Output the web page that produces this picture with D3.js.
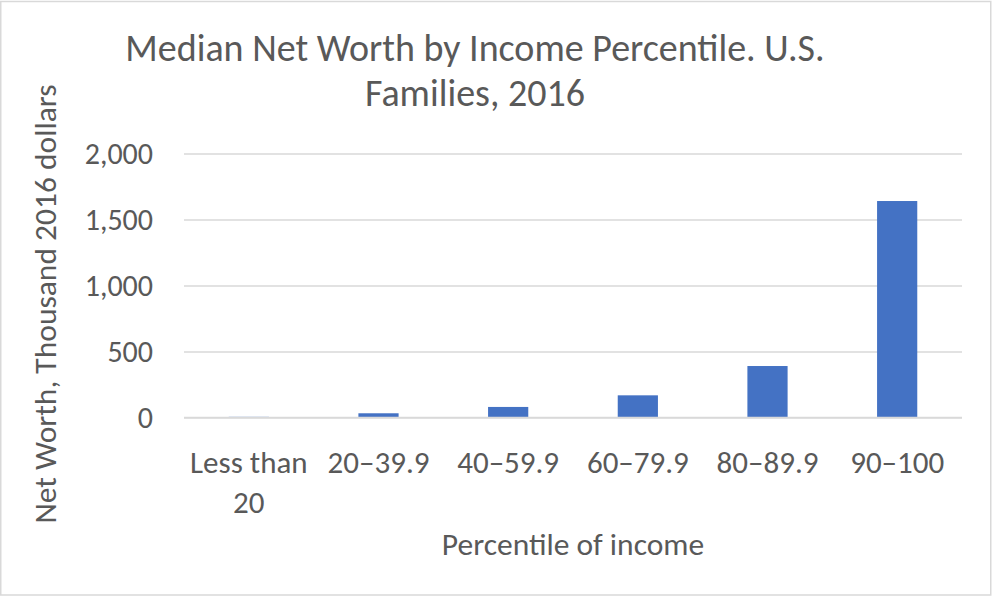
<!DOCTYPE html>
<html>
<head>
<meta charset="utf-8">
<script src="https://cdn.jsdelivr.net/npm/d3@7"></script>
<style>
  html, body { margin: 0; padding: 0; background: #fff; }
  svg { display: block; }
  text { font-family: Carlito, Calibri, Lato, "Open Sans", sans-serif; fill: #595959; }
</style>
</head>
<body>
<svg id="chart" width="994" height="597"></svg>
<script>
// ---- data ----
const categories = ["Less than 20", "20–39.9", "40–59.9", "60–79.9", "80–89.9", "90–100"];
const categoryLines = [["Less than", "20"], ["20–39.9"], ["40–59.9"], ["60–79.9"], ["80–89.9"], ["90–100"]];
const values = [5, 32, 80, 168, 390, 1640];
const yTicks = [0, 500, 1000, 1500, 2000];
const titleLines = ["Median Net Worth by Income Percentile. U.S.", "Families, 2016"];
const xTitle = "Percentile of income";
const yTitle = "Net Worth, Thousand 2016 dollars";

// ---- layout ----
const W = 994, H = 597;
const plot = { left: 184, right: 962, top: 153.5, bottom: 417.5 };

const svg = d3.select("#chart");

svg.append("rect")
  .attr("x", 0.75).attr("y", 1.5)
  .attr("width", 990).attr("height", 593.5)
  .attr("fill", "#fff").attr("stroke", "#d9d9d9").attr("stroke-width", 1.5);

const x = d3.scaleBand().domain(categories).range([plot.left, plot.right])
  .paddingInner(0.69).paddingOuter(0.345);
const y = d3.scaleLinear().domain([0, 2000]).range([plot.bottom, plot.top]);

// gridlines
const yAxis = d3.axisLeft(y).tickValues(yTicks)
  .tickSize(-(plot.right - plot.left)).tickPadding(31)
  .tickFormat(d3.format(","));
const gy = svg.append("g").attr("transform", `translate(${plot.left},0)`).call(yAxis);
gy.select(".domain").remove();
gy.selectAll(".tick line").attr("stroke", "#d9d9d9").attr("stroke-width", 1.5);
gy.selectAll(".tick text")
  .attr("font-size", 30).attr("fill", "#595959")
  .style("font-family", "Carlito, Calibri, Lato, sans-serif");

// bars
svg.append("g").selectAll("rect.bar")
  .data(categories)
  .join("rect")
  .attr("class", "bar")
  .attr("x", d => x(d))
  .attr("width", x.bandwidth())
  .attr("y", (d, i) => y(values[i]))
  .attr("height", (d, i) => y(0) - y(values[i]))
  .attr("fill", "#4472c4");

// baseline drawn over bars
svg.append("line")
  .attr("x1", plot.left).attr("x2", plot.right)
  .attr("y1", y(0)).attr("y2", y(0))
  .attr("stroke", "#d9d9d9").attr("stroke-width", 1.5);

// category labels
const xAxis = d3.axisBottom(x).tickSize(0).tickFormat("");
const gx = svg.append("g").attr("transform", `translate(0,${plot.bottom})`).call(xAxis);
gx.select(".domain").remove();
gx.selectAll(".tick").each(function(d, i) {
  const t = d3.select(this).append("text")
    .attr("text-anchor", "middle")
    .attr("font-size", 31)
    .attr("fill", "#595959");
  categoryLines[i].forEach((ln, k) => {
    t.append("tspan").attr("x", 0).attr("y", 55 + k * 40).text(ln);
  });
});

// title
const title = svg.append("text")
  .attr("text-anchor", "middle")
  .attr("font-size", 38);
titleLines.forEach((ln, k) => {
  title.append("tspan").attr("x", 475).attr("y", 61 + k * 45).text(ln);
});

// axis titles
svg.append("text")
  .attr("x", (plot.left + plot.right) / 2).attr("y", 555)
  .attr("text-anchor", "middle").attr("font-size", 31.5)
  .text(xTitle);

svg.append("text")
  .attr("transform", `translate(56,${304}) rotate(-90)`)
  .attr("text-anchor", "middle").attr("font-size", 31.5)
  .text(yTitle);
</script>
</body>
</html>
